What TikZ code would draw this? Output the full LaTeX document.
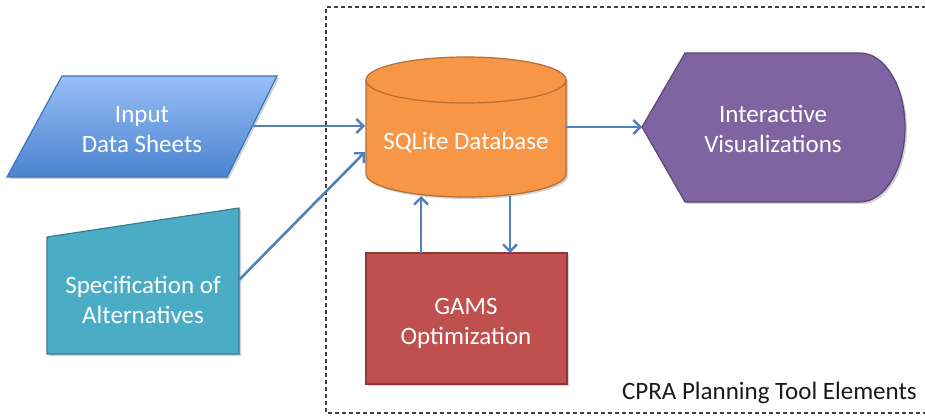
\documentclass[tikz,border=0pt]{standalone}
\usepackage{fontspec}
\setmainfont{Carlito}
\usetikzlibrary{arrows.meta}
\definecolor{arrowblue}{HTML}{4F81BD}
\definecolor{blueTop}{HTML}{98BEF6}
\definecolor{blueBot}{HTML}{4A84D0}
\definecolor{blueLine}{HTML}{3E74BC}
\definecolor{tealFill}{HTML}{4BACC6}
\definecolor{tealLine}{HTML}{357D91}
\definecolor{orangeFill}{HTML}{F79646}
\definecolor{orangeLine}{HTML}{B66D31}
\definecolor{redFill}{HTML}{C0504D}
\definecolor{redLine}{HTML}{8C3836}
\definecolor{purpleFill}{HTML}{8064A2}
\definecolor{purpleLine}{HTML}{5C4776}
\definecolor{labelText}{HTML}{1A1A1A}
\begin{document}
\begin{tikzpicture}[x=1pt,y=1pt,
  boxtext/.style={text=white, align=center, font=\fontsize{25}{30}\selectfont, inner sep=0pt},
  conn/.style={draw=arrowblue, line width=2.6pt, -{Straight Barb[length=7pt,width=14pt,line width=2.4pt]}},
  shapeline/.style={line width=1.2pt},
  shadowfill/.style={fill=black, opacity=0.18, draw=none}
]
\useasboundingbox (0,0) rectangle (925,417);
\fill[white] (0,0) rectangle (925,417);

% dashed frame
\draw[dashed, dash pattern=on 4pt off 3pt, line width=1.3pt, draw=black!75]
  (940,410) -- (326,410) -- (326,4) -- (940,4);

% shadows
\fill[shadowfill] (64,339) -- (279,339) -- (229,238) -- (9,238) -- cycle;
\fill[shadowfill] (49,178) -- (241,207) -- (241,61) -- (49,61) -- cycle;
\fill[shadowfill] (368,335) -- (368,241) arc (180:360:100 and 23) -- (568,335) arc (0:180:100 and 23) -- cycle;
\fill[shadowfill] (368,162) rectangle (569,31);
\fill[shadowfill] (644,288) -- (687,362) -- (862,362) arc (90:-90:45 and 74.5) -- (687,213) -- cycle;

% Input data sheets (parallelogram)
\shade[top color=blueTop, bottom color=blueBot] (62,341) -- (277,341) -- (227,240) -- (7,240) -- cycle;
\draw[shapeline, draw=blueLine] (62,341) -- (277,341) -- (227,240) -- (7,240) -- cycle;
\node[boxtext] (input) at (142,287) {Input\\Data Sheets};

% Specification of alternatives (manual input)
\filldraw[shapeline, fill=tealFill, draw=tealLine] (47,180) -- (239,209) -- (239,63) -- (47,63) -- cycle;
\node[boxtext] (spec) at (143,117) {Specification of\\Alternatives};

% SQLite cylinder
\filldraw[shapeline, fill=orangeFill, draw=orangeLine]
  (366,337) -- (366,243) arc (180:360:100 and 23) -- (566,337) arc (0:180:100 and 23) -- cycle;
\draw[shapeline, draw=orangeLine] (566,337) arc (0:-180:100 and 23);
\node[boxtext] (db) at (466,275) {SQLite Database};

% GAMS
\filldraw[shapeline, fill=redFill, draw=redLine] (366,164) rectangle (567,33);
\node[boxtext] (gams) at (466,94) {GAMS\\Optimization};

% Interactive visualizations (display)
\filldraw[shapeline, fill=purpleFill, draw=purpleLine]
  (642,290) -- (685,364) -- (860,364) arc (90:-90:45 and 74.5) -- (685,215) -- cycle;
\node[boxtext] (vis) at (773,288) {Interactive\\Visualizations};

% label
\node[anchor=east, inner sep=0pt, text=labelText, font=\fontsize{25}{30}\selectfont] (lbl) at (917,24) {CPRA Planning Tool Elements};

% connector endpoints
\coordinate (inR) at (252,291);
\coordinate (dbL1) at (365,291);
\coordinate (spR) at (239,137);
\coordinate (dbL2) at (365,265);
\coordinate (dbR) at (566,290);
\coordinate (visL) at (642,290);
\coordinate (gT1) at (421,164);
\coordinate (dbB1) at (421,221);
\coordinate (dbB2) at (510,221);
\coordinate (gT2) at (510,164);

\draw[conn] (inR) -- (dbL1);
\draw[conn] (spR) -- (dbL2);
\draw[conn] (dbR) -- (visL);
\draw[conn] (gT1) -- (dbB1);
\draw[conn] (dbB2) -- (gT2);
\end{tikzpicture}
\end{document}
